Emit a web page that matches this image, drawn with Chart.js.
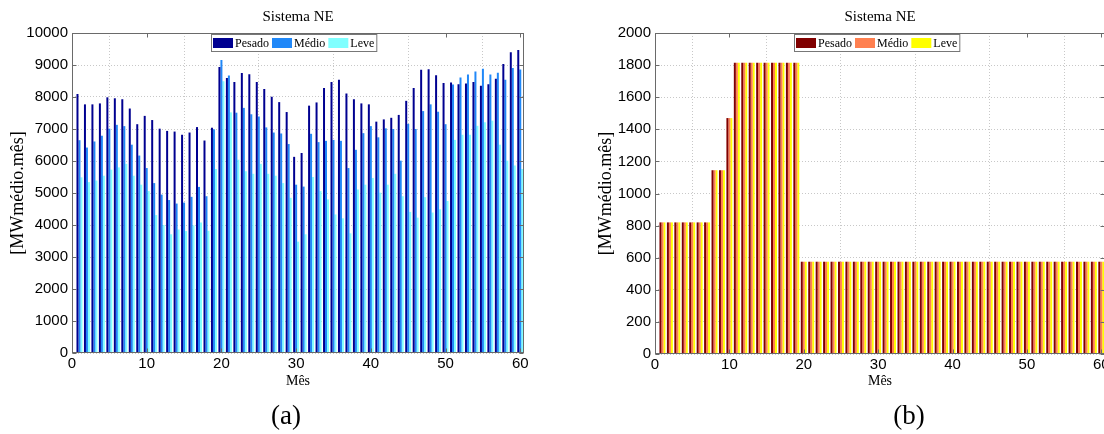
<!DOCTYPE html>
<html>
<head>
<meta charset="utf-8">
<script src="https://cdn.jsdelivr.net/npm/chart.js@4.4.0/dist/chart.umd.min.js"></script>
<style>
  html, body { margin: 0; padding: 0; background: #fff; overflow: hidden; width: 1104px; height: 434px; }
  #ca { position: absolute; left: 0; top: 0; }
  #cb { position: absolute; left: 552px; top: 0; }
</style>
</head>
<body>
<canvas id="ca" width="552" height="434"></canvas>
<canvas id="cb" width="580" height="434"></canvas>
<script>
// Months of the planning horizon
const months = [1,2,3,4,5,6,7,8,9,10,11,12,13,14,15,16,17,18,19,20,
  21,22,23,24,25,26,27,28,29,30,31,32,33,34,35,36,37,38,39,40,
  41,42,43,44,45,46,47,48,49,50,51,52,53,54,55,56,57,58,59,60];

// Tick values
const xTicks = [0, 10, 20, 30, 40, 50, 60];
const yTicksA = [0, 1000, 2000, 3000, 4000, 5000, 6000, 7000, 8000, 9000, 10000];
const yTicksB = [0, 200, 400, 600, 800, 1000, 1200, 1400, 1600, 1800, 2000];

// (a) load levels per month [MWmédio.mês]
const pesadoA = [8090,7770,7770,7800,7990,7960,7930,7640,7150,7410,
  7280,7010,6940,6920,6820,6890,7060,6640,7040,8940,
  8590,8470,8750,8710,8470,8250,8010,7840,7530,6130,
  6250,7730,7830,8280,8470,8540,8110,7930,7800,7770,
  7230,7300,7350,7440,7880,8280,8850,8870,8680,8440,
  8450,8400,8420,8470,8350,8400,8570,9030,9400,9470];
const medioA = [6650,6420,6610,6790,7010,7130,7090,6510,6170,5780,
  5310,4950,4780,4670,4700,4880,5190,4900,6990,9160,
  8670,7510,7660,7460,7390,7050,6890,6860,6530,5260,
  5200,6850,6590,6630,6660,6630,5780,6350,6870,7090,
  6740,7020,7000,6010,7160,7000,7560,7770,7540,7150,
  8390,8610,8700,8800,8880,8700,8760,8540,8910,8860];
const leveA = [5490,5340,5390,5540,5730,5800,5910,5540,5260,5060,
  4310,4000,3710,3860,3810,3990,4080,3820,5750,8490,
  7520,6040,5680,5600,5910,5600,5540,5310,4850,3480,
  3710,5500,5060,4800,4330,4210,3740,5110,5260,5470,
  5010,5260,5600,4900,4410,4230,4870,4390,4490,4750,
  6660,6820,6820,7100,7210,7260,6510,6010,5860,5750];

// (b) levels per month [MWmédio.mês]
const pesadoB = [820,820,820,820,820,820,820,1145,1145,1470,
  1815,1815,1815,1815,1815,1815,1815,1815,1815,575,
  575,575,575,575,575,575,575,575,575,575,
  575,575,575,575,575,575,575,575,575,575,
  575,575,575,575,575,575,575,575,575,575,
  575,575,575,575,575,575,575,575,575,575];
const medioB = [820,820,820,820,820,820,820,1145,1145,1470,
  1815,1815,1815,1815,1815,1815,1815,1815,1815,575,
  575,575,575,575,575,575,575,575,575,575,
  575,575,575,575,575,575,575,575,575,575,
  575,575,575,575,575,575,575,575,575,575,
  575,575,575,575,575,575,575,575,575,575];
const leveB = [820,820,820,820,820,820,820,1145,1145,1470,
  1815,1815,1815,1815,1815,1815,1815,1815,1815,575,
  575,575,575,575,575,575,575,575,575,575,
  575,575,575,575,575,575,575,575,575,575,
  575,575,575,575,575,575,575,575,575,575,
  575,575,575,575,575,575,575,575,575,575];

const seriesNames = ['Pesado', 'Médio', 'Leve'];
const coloursA = ['#000090', '#2088f8', '#80ffff'];
const coloursB = ['#800000', '#ff8050', '#ffff00'];

const SERIF = '"Liberation Serif", "Times New Roman", serif';
const SANS = '"Liberation Sans", Arial, sans-serif';

function points(values) {
  return months.map((m, i) => ({ x: m, y: values[i] }));
}

// Axes box, inward ticks, titles, legend and caption
const framePlugin = {
  id: 'frame',
  afterDraw(chart, args, o) {
    const ctx = chart.ctx;
    const a = chart.chartArea;
    const xs = chart.scales.x, ys = chart.scales.y;
    const L = Math.round(a.left) + 0.5, R = Math.round(a.right) - 0.5;
    const T = Math.round(a.top) + 0.5, B = Math.round(a.bottom) - 0.5;
    ctx.save();
    ctx.strokeStyle = '#6a6a6a';
    ctx.lineWidth = 1;
    ctx.strokeRect(L, T, R - L, B - T);
    ctx.beginPath();
    for (const v of xTicks) {
      const px = Math.round(xs.getPixelForValue(v)) + 0.5;
      ctx.moveTo(px, B); ctx.lineTo(px, B - 4);
      ctx.moveTo(px, T); ctx.lineTo(px, T + 4);
    }
    for (const v of o.yTicks) {
      const py = Math.round(ys.getPixelForValue(v)) + 0.5;
      ctx.moveTo(L, py); ctx.lineTo(L + 4, py);
      ctx.moveTo(R, py); ctx.lineTo(R - 4, py);
    }
    ctx.stroke();

    const cx = (a.left + a.right) / 2;
    ctx.fillStyle = '#000';
    ctx.textAlign = 'center';
    ctx.textBaseline = 'alphabetic';
    ctx.font = '15px ' + SERIF;
    ctx.fillText(o.title, cx, 21);
    ctx.font = '14px ' + SERIF;
    ctx.fillText(o.xlabel, cx, 385);

    ctx.save();
    ctx.translate(o.ylabelX, (a.top + a.bottom) / 2);
    ctx.rotate(-Math.PI / 2);
    ctx.font = '18px ' + SERIF;
    ctx.fillText(o.ylabel, 0, 0);
    ctx.restore();

    ctx.font = '27px ' + SERIF;
    ctx.fillText(o.caption, o.captionX, 424);

    // legend
    ctx.font = '12px ' + SERIF;
    const ds = chart.data.datasets;
    const lx = Math.round(a.left + 139), ly = Math.round(a.top) + 1;
    let w = 2;
    ds.forEach((d, i) => { w += 20 + 2 + ctx.measureText(d.label).width + (i < ds.length - 1 ? 3 : 2); });
    ctx.fillStyle = '#fff';
    ctx.fillRect(lx, ly, w, 17);
    ctx.strokeStyle = '#777';
    ctx.strokeRect(lx + 0.5, ly + 0.5, w, 17);
    let x = lx + 2;
    ctx.textAlign = 'left';
    ctx.textBaseline = 'middle';
    ds.forEach((d, i) => {
      ctx.fillStyle = d.backgroundColor;
      ctx.fillRect(x, ly + 4, 20, 10);
      x += 22;
      ctx.fillStyle = '#000';
      ctx.fillText(d.label, x, ly + 9.5);
      x += ctx.measureText(d.label).width + 3;
    });
    ctx.restore();
  }
};

function makeChart(id, sets, colours, yTicks, yMax, frame, area) {
  return new Chart(document.getElementById(id), {
    type: 'bar',
    data: {
      datasets: sets.map((v, i) => ({
        label: seriesNames[i],
        data: points(v),
        backgroundColor: colours[i],
        borderWidth: 0,
        categoryPercentage: 0.8,
        barPercentage: 1.0
      }))
    },
    options: {
      responsive: false,
      animation: false,
      events: [],
      layout: { padding: { left: 0, top: area.top, right: area.right, bottom: 0 } },
      plugins: { legend: { display: false }, title: { display: false }, tooltip: { enabled: false }, frame },
      scales: {
        x: {
          type: 'linear', min: 0, max: 60.5, offset: false,
          afterBuildTicks: s => { s.ticks = xTicks.map(v => ({ value: v })); },
          afterFit: s => { s.height = area.xh; },
          ticks: { color: '#000', font: { family: SANS, size: 15 }, padding: 2, maxRotation: 0, autoSkip: false,
                   callback: v => String(v) },
          grid: { color: '#c8c8c8', lineWidth: 1, drawTicks: false },
          border: { display: false, dash: [1, 2] }
        },
        y: {
          min: 0, max: yMax,
          afterBuildTicks: s => { s.ticks = yTicks.map(v => ({ value: v })); },
          afterFit: s => { s.width = area.yw; },
          ticks: { color: '#000', font: { family: SANS, size: 15 }, padding: 4, autoSkip: false,
                   callback: v => String(v) },
          grid: { color: '#c8c8c8', lineWidth: 1, drawTicks: false },
          border: { display: false, dash: [1, 2] }
        }
      }
    },
    plugins: [framePlugin]
  });
}

makeChart('ca', [pesadoA, medioA, leveA], coloursA, yTicksA, 10000,
  { title: 'Sistema NE', xlabel: 'Mês', ylabel: '[MWmédio.mês]', ylabelX: 23, caption: '(a)', captionX: 286, yTicks: yTicksA },
  { top: 33, right: 28, xh: 81, yw: 72 });

makeChart('cb', [pesadoB, medioB, leveB], coloursB, yTicksB, 2000,
  { title: 'Sistema NE', xlabel: 'Mês', ylabel: '[MWmédio.mês]', ylabelX: 59, caption: '(b)', captionX: 357, yTicks: yTicksB },
  { top: 33, right: 27, xh: 80, yw: 103 });
</script>
</body>
</html>
